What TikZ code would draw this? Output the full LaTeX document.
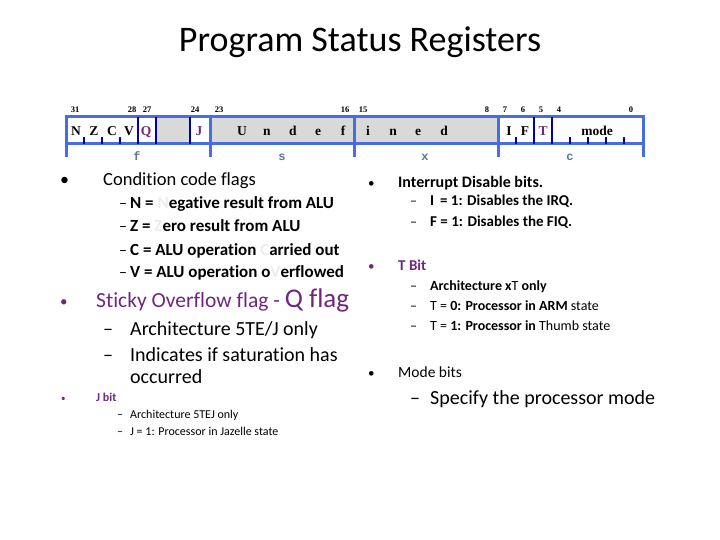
\documentclass[tikz,border=0pt]{standalone}
\usepackage{fontspec}
\setmainfont{Carlito}[Ligatures=NoCommon]
\newfontfamily\regfont{Liberation Serif}
\newfontfamily\labfont{Liberation Mono}

\definecolor{regblue}{RGB}{70,110,225}
\definecolor{sepblue}{RGB}{0,0,175}
\definecolor{flagpurple}{RGB}{112,38,128}
\definecolor{fieldgray}{RGB}{88,118,150}
\definecolor{cellgray}{RGB}{217,217,217}
\definecolor{ghost}{RGB}{236,236,236}

\newcommand{\fsz}[1]{\fontsize{#1}{#1}\selectfont}

\begin{document}
\begin{tikzpicture}[x=1pt, y=-1pt, every node/.style={inner sep=0pt},
    bitnum/.style={anchor=base, font=\regfont\bfseries\fsz{8.5}},
    regbit/.style={anchor=base, font=\regfont\bfseries\fsz{13.5}},
    fieldlab/.style={anchor=base, text=fieldgray, font=\labfont\bfseries\fsz{12}},
    outerline/.style={regblue, line width=3pt},
    innerline/.style={sepblue, line width=2.5pt},
    txt/.style={anchor=base west}]
        \useasboundingbox (0,0) rectangle (720,540);

        % Titolo
        \node[font=\fsz{36}] (title) at (360,42) {Program Status Registers};

        % Registro
        \fill[cellgray] (156,117) rectangle (190,144);
        \fill[cellgray] (210,117) rectangle (498,144);
        \draw[outerline] (66,117) rectangle (643,144);
        \draw[outerline] (66,144) -- (66,157);
        \draw[outerline] (210,117) -- (210,157);
        \draw[outerline] (354,117) -- (354,157);
        \draw[outerline] (498,117) -- (498,157);
        \draw[outerline] (643,144) -- (643,157);

        \draw[innerline] (138,117) -- (138,144);
        \draw[innerline] (156,117) -- (156,144);
        \draw[innerline] (190,117) -- (190,144);
        \draw[innerline] (534,117) -- (534,144);
        \draw[innerline] (552,117) -- (552,144);

        \draw[innerline] (84,144) -- (84,137);
        \draw[innerline] (102,144) -- (102,137);
        \draw[innerline] (120,144) -- (120,137);
        \draw[innerline] (516,144) -- (516,137);
        \draw[innerline] (570,144) -- (570,137);
        \draw[innerline] (588,144) -- (588,137);
        \draw[innerline] (606,144) -- (606,137);
        \draw[innerline] (624,144) -- (624,137);

        % Numeri dei bit
        \node[bitnum] (n31) at (75,113) {31};
        \node[bitnum] (n28) at (132,113) {28};
        \node[bitnum] (n27) at (147,113) {27};
        \node[bitnum] (n24) at (195,113) {24};
        \node[bitnum] (n23) at (219,113) {23};
        \node[bitnum] (n16) at (345,113) {16};
        \node[bitnum] (n15) at (363,113) {15};
        \node[bitnum] (n8) at (487,113) {8};
        \node[bitnum] (n7) at (505,113) {7};
        \node[bitnum] (n6) at (523,113) {6};
        \node[bitnum] (n5) at (541,113) {5};
        \node[bitnum] (n4) at (559,113) {4};
        \node[bitnum] (n0) at (631,113) {0};

        % Campi del registro
        \node[regbit] (bitN) at (76,136) {N};
        \node[regbit] (bitZ) at (94,136) {Z};
        \node[regbit] (bitC) at (112,136) {C};
        \node[regbit] (bitV) at (129,136) {V};
        \node[regbit, text=flagpurple] (bitQ) at (146,136) {Q};
        \node[regbit, text=flagpurple] (bitJ) at (199,136) {J};
        \node[regbit] (undU) at (242,136) {U};
        \node[regbit] (undN) at (267,136) {n};
        \node[regbit] (undD) at (293,136) {d};
        \node[regbit] (undE) at (318,136) {e};
        \node[regbit] (undF) at (343,136) {f};
        \node[regbit] (undI) at (368,136) {i};
        \node[regbit] (undN2) at (393,136) {n};
        \node[regbit] (undE2) at (418,136) {e};
        \node[regbit] (undD2) at (444,136) {d};
        \node[regbit] (bitI) at (509,136) {I};
        \node[regbit] (bitF) at (525,136) {F};
        \node[regbit, text=flagpurple] (bitT) at (543,136) {T};
        \node[regbit] (mode) at (597,136) {mode};

        \node[fieldlab] (fieldF) at (137,161) {f};
        \node[fieldlab] (fieldS) at (282,161) {s};
        \node[fieldlab] (fieldX) at (425,161) {x};
        \node[fieldlab] (fieldC) at (570,161) {c};

        % Colonna sinistra
        \node[txt, font=\fsz{18}] (dotCcf) at (60,186) {•};
        \node[txt, font=\fsz{18.5}] (ccf) at (103,186) {Condition code flags};
        \node[txt, font=\fsz{16}] (dashN) at (119,209) {–};
        \node[txt, font=\bfseries\fsz{17}] (ccfN) at (130,209) {N = \textcolor{ghost}{N}egative result from ALU};
        \node[txt, font=\fsz{16}] (dashZ) at (119,232) {–};
        \node[txt, font=\bfseries\fsz{17}] (ccfZ) at (130,232) {Z = \textcolor{ghost}{Z}ero result from ALU};
        \node[txt, font=\fsz{16}] (dashC) at (119,255) {–};
        \node[txt, font=\bfseries\fsz{17}] (ccfC) at (130,255) {C = ALU operation \textcolor{ghost}{C}arried out};
        \node[txt, font=\fsz{16}] (dashV) at (119,277) {–};
        \node[txt, font=\bfseries\fsz{17}] (ccfV) at (130,277) {V = ALU operation o\textcolor{ghost}{V}erflowed};

        \node[txt, text=flagpurple, font=\fsz{15}] (dotQ) at (60,306) {•};
        \node[txt, text=flagpurple, font=\fsz{21.5}] (qflag) at (96,307) {Sticky Overflow flag - {\fsz{27}Q flag}};
        \node[txt, font=\fsz{20}] (dashQa) at (103,335) {–};
        \node[txt, font=\fsz{20}] (qArch) at (130,335) {Architecture 5TE/J only};
        \node[txt, font=\fsz{20}] (dashQb) at (103,361) {–};
        \node[txt, font=\fsz{20}] (qSat) at (130,361) {Indicates if saturation has};
        \node[txt, font=\fsz{20}] (qSat2) at (130,383) {occurred};

        \node[txt, text=flagpurple, font=\fsz{9}] (dotJ) at (61,401) {•};
        \node[txt, text=flagpurple, font=\bfseries\fsz{12}] (jbit) at (96,401) {J bit};
        \node[txt, font=\fsz{12}] (dashJa) at (117,418) {–};
        \node[txt, font=\fsz{12}] (jArch) at (130,418) {Architecture 5TEJ only};
        \node[txt, font=\fsz{12}] (dashJb) at (117,435) {–};
        \node[txt, font=\fsz{12}] (jState) at (130,435) {J = 1: Processor in Jazelle state};

        % Colonna destra
        \node[txt, font=\fsz{13}] (dotIrq) at (368,188) {•};
        \node[txt, font=\bfseries\fsz{16}] (irq) at (398,188) {Interrupt Disable bits.};
        \node[txt, font=\fsz{14}] (dashI) at (410,206) {–};
        \node[txt, font=\bfseries\fsz{15}] (irqI) at (430,206) {I \,= 1: Disables the IRQ.};
        \node[txt, font=\fsz{14}] (dashF) at (410,226) {–};
        \node[txt, font=\bfseries\fsz{15}] (irqF) at (430,226) {F = 1: Disables the FIQ.};

        \node[txt, text=flagpurple, font=\fsz{13}] (dotT) at (368,270) {•};
        \node[txt, text=flagpurple, font=\bfseries\fsz{15}] (tbit) at (398,270) {T Bit};
        \node[txt, font=\fsz{14}] (dashTa) at (410,290) {–};
        \node[txt, font=\fsz{14}] (tArch) at (430,290) {\textbf{Architecture x}T \textbf{only}};
        \node[txt, font=\fsz{14}] (dashTb) at (410,310) {–};
        \node[txt, font=\fsz{14}] (tArm) at (430,310) {T = \textbf{0: Processor in ARM} state};
        \node[txt, font=\fsz{14}] (dashTc) at (410,330) {–};
        \node[txt, font=\fsz{14}] (tThumb) at (430,330) {T = \textbf{1: Processor in} Thumb state};

        \node[txt, font=\fsz{13}] (dotMode) at (368,377) {•};
        \node[txt, font=\fsz{15.5}] (modebits) at (398,377) {Mode bits};
        \node[txt, font=\fsz{20}] (dashM) at (410,404) {–};
        \node[txt, font=\fsz{20}] (modeSpec) at (430,404) {Specify the processor mode};

    \end{tikzpicture}
\end{document}
